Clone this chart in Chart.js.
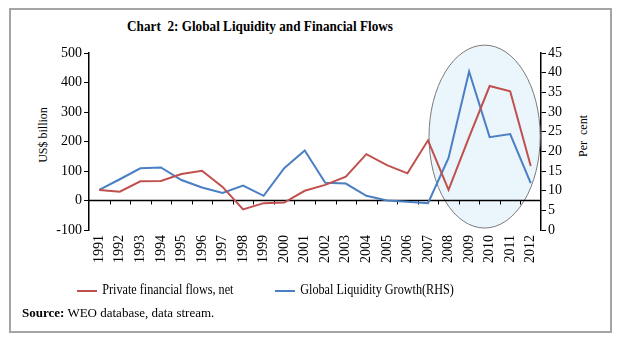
<!DOCTYPE html>
<html>
<head>
<meta charset="utf-8">
<script src="https://cdn.jsdelivr.net/npm/chart.js@4/dist/chart.umd.min.js"></script>
<style>
    body { margin: 0; background: #fff; font-family: "Liberation Serif", serif; }
    #frame { position: absolute; left: 9px; top: 8px; width: 603px; height: 325px; box-sizing: border-box; border: 2px solid #a4a4a4; }
    #title { position: absolute; left: 0; width: 520px; top: 18px; text-align: center; font-weight: bold; font-size: 15px; transform: scaleX(0.88); transform-origin: 260px 0; }
    #wrap { position: absolute; left: 20px; top: 40px; width: 580px; height: 245px; }
    .ytitle { position: absolute; font-size: 12px; white-space: nowrap; transform: translate(-50%, -50%) rotate(-90deg); }
    .legend { position: absolute; top: 282px; font-size: 14px; white-space: nowrap; transform: scaleX(0.87); transform-origin: 0 0; }
    .legend span.swatch { display: inline-block; width: 23px; height: 2px; vertical-align: middle; margin-right: 6px; }
    #source { position: absolute; left: 22px; top: 305px; font-size: 13px; }
</style>
</head>
<body>
<div id="frame"></div>
<div id="title">Chart&nbsp; 2: Global Liquidity and Financial Flows</div>
<div class="ytitle" style="left:43px; top:135px;">US$ billion</div>
<div class="ytitle" style="left:583px; top:136px;">Per&nbsp; cent</div>
<div id="wrap"><canvas id="chart"></canvas></div>
<div class="legend" style="left:77px;"><span class="swatch" style="background:#c0504d"></span>Private financial flows, net</div>
<div class="legend" style="left:275px;"><span class="swatch" style="background:#4a7fc1"></span>Global Liquidity Growth(RHS)</div>
<div id="source"><b>Source:</b> WEO database, data stream.</div>

<script>
// Data
const years = ['1991', '1992', '1993', '1994', '1995', '1996', '1997', '1998', '1999', '2000', '2001',
    '2002', '2003', '2004', '2005', '2006', '2007', '2008', '2009', '2010', '2011', '2012'];
const privateFlows = [36, 30, 65, 66, 90, 101, 46, -30, -9, -7, 33,
    53, 81, 157, 120, 92, 204, 36, 215, 388, 370, 117];
const liquidityGrowth = [10.2, 12.9, 15.7, 15.9, 12.7, 10.8, 9.4, 11.3, 8.7, 15.7, 20.2,
    12.0, 11.8, 8.7, 7.5, 7.2, 6.8, 18.3, 40.3, 23.6, 24.4, 11.9];
const leftTicks = { min: -100, max: 500, step: 100 };
const rightTicks = { min: 0, max: 45, step: 5 };

const red = '#c0504d';
const blue = '#4a7fc1';

// Highlight ellipse (category index range, RHS value range) + zero line with ticks
const overlayPlugin = {
    id: 'overlay',
    beforeDatasetsDraw(chart) {
        const { ctx, chartArea, scales } = chart;
        const x = scales.x, y = scales.y, y1 = scales.y1;
        const step = x.getPixelForValue(1) - x.getPixelForValue(0);
        const x0 = x.getPixelForValue(16) + 0.05 * step;
        const x1 = x.getPixelForValue(21) + 0.46 * step;
        const top = y1.getPixelForValue(47);
        const bottom = y1.getPixelForValue(0.5);
        ctx.save();
        ctx.beginPath();
        ctx.ellipse((x0 + x1) / 2, (top + bottom) / 2, (x1 - x0) / 2, (bottom - top) / 2, 0, 0, Math.PI * 2);
        ctx.fillStyle = '#ebf5fc';
        ctx.fill();
        ctx.strokeStyle = '#7a7a7a';
        ctx.lineWidth = 1;
        ctx.stroke();

        // zero line
        const zy = y.getPixelForValue(0);
        ctx.beginPath();
        ctx.moveTo(chartArea.left, zy);
        ctx.lineTo(chartArea.right, zy);
        ctx.strokeStyle = '#000';
        ctx.lineWidth = 1.5;
        ctx.stroke();
        ctx.lineWidth = 1;
        for (let i = 0; i < years.length - 1; i++) {
            const px = Math.round(x.getPixelForValue(i) + step / 2) + 0.5;
            ctx.beginPath();
            ctx.moveTo(px, zy);
            ctx.lineTo(px, zy + 4);
            ctx.stroke();
        }
        ctx.restore();
    }
};

const tickFont = { family: '"Liberation Serif", serif', size: 14 };

new Chart(document.getElementById('chart'), {
    type: 'line',
    data: {
        labels: years,
        datasets: [
            {
                label: 'Private financial flows, net',
                data: privateFlows,
                borderColor: red,
                borderWidth: 2,
                pointRadius: 0,
                tension: 0,
                yAxisID: 'y'
            },
            {
                label: 'Global Liquidity Growth(RHS)',
                data: liquidityGrowth,
                borderColor: blue,
                borderWidth: 2,
                pointRadius: 0,
                tension: 0,
                yAxisID: 'y1'
            }
        ]
    },
    options: {
        responsive: true,
        maintainAspectRatio: false,
        animation: false,
        layout: { padding: { top: 13, bottom: 0, left: 0, right: 0 } },
        plugins: {
            legend: { display: false },
            tooltip: { enabled: false }
        },
        scales: {
            x: {
                offset: true,
                grid: { display: false, drawTicks: false },
                border: { display: false },
                ticks: { color: '#000', font: tickFont, minRotation: 90, maxRotation: 90, padding: 5, autoSkip: false },
                afterFit: (s) => { s.height = 55; }
            },
            y: {
                position: 'left',
                min: leftTicks.min,
                max: leftTicks.max,
                ticks: { stepSize: leftTicks.step, color: '#000', font: tickFont, padding: 2, autoSkip: false },
                grid: { drawOnChartArea: false, color: '#000', tickLength: 5 },
                border: { color: '#000', width: 1.5 },
                afterFit: (s) => { s.width = 69; }
            },
            y1: {
                position: 'right',
                min: rightTicks.min,
                max: rightTicks.max,
                ticks: { stepSize: rightTicks.step, color: '#000', font: tickFont, padding: 2, autoSkip: false },
                grid: { drawOnChartArea: false, color: '#000', tickLength: 5 },
                border: { color: '#000', width: 1.5 },
                afterFit: (s) => { s.width = 59; }
            }
        }
    },
    plugins: [overlayPlugin]
});
</script>
</body>
</html>
